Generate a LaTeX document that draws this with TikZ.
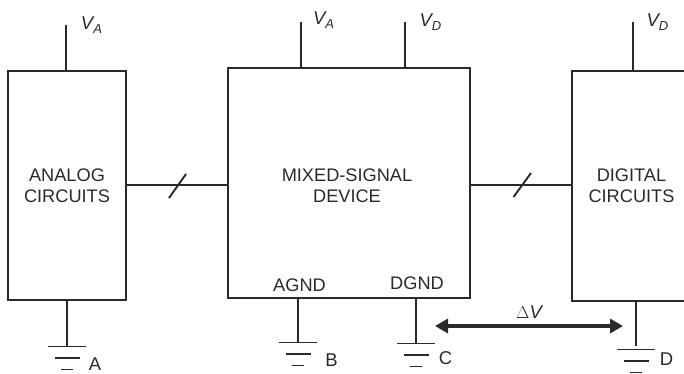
\documentclass[tikz,border=0pt]{standalone}
\usepackage{fontspec}
\setmainfont{Liberation Sans}
\usetikzlibrary{arrows.meta,calc}
\tikzset{
  block/.style={draw=ink,line width=2pt,minimum height=0pt,inner sep=0pt,rectangle,anchor=north west},
  wire/.style={draw=ink,line width=1.9pt},
  lab/.style={font=\fontsize{18.2}{20.5}\selectfont,text=ink,align=center,inner sep=0pt},
  rail/.style={font=\fontsize{18.5}{20}\selectfont\itshape,text=ink,inner sep=0pt},
  gndlab/.style={font=\fontsize{18.5}{20}\selectfont,text=ink,inner sep=0pt},
  gnd/.pic={
    \draw[wire] (-19,0) -- (19,0);
    \draw[wire] (-12.5,11.5) -- (12.5,11.5);
    \draw[wire] (-6,23) -- (6,23);
  }
}
\newcommand{\railsub}[1]{\raisebox{-0.4ex}{\fontsize{13}{14}\selectfont #1}}
\definecolor{ink}{HTML}{2B2A2B}
\begin{document}
\begin{tikzpicture}[x=1pt,y=-1pt]
\useasboundingbox (0,0) rectangle (684,373);
\clip (0,0) rectangle (684,373);
% blocks
\node[block,minimum width=118pt,minimum height=229pt] (an) at (7,70) {};
\node[block,minimum width=242pt,minimum height=230pt] (mx) at (227,67) {};
\node[block,minimum width=140pt,minimum height=230pt] (dg) at (571,70) {};
\node[lab] (anl) at (67,185.5) {ANALOG\\CIRCUITS};
\node[lab] (mxl) at (347,185.5) {MIXED-SIGNAL\\DEVICE};
\node[lab] (dgl) at (631.5,185.5) {DIGITAL\\CIRCUITS};
\node[lab] (agnd) at (299.5,285) {AGND};
\node[lab] (dgnd) at (417,283.5) {DGND};
% supply rails
\coordinate (va1) at (66,25);
\coordinate (va2) at (301,22);
\coordinate (vd2) at (405,22);
\coordinate (vd3) at (633,22);
\draw[wire] (va1) -- (va1 |- an.north);
\draw[wire] (va2) -- (va2 |- mx.north);
\draw[wire] (vd2) -- (vd2 |- mx.north);
\draw[wire] (vd3) -- (vd3 |- dg.north);
\node[rail] (tva1) at (91.5,25) {V\railsub{A}};
\node[rail] (tva2) at (323.5,20.5) {V\railsub{A}};
\node[rail] (tvd2) at (430.5,22.5) {V\railsub{D}};
\node[rail] (tvd3) at (657.5,22.5) {V\railsub{D}};
% signal buses
\coordinate (b1) at (126,185);
\coordinate (b2) at (470,185);
\draw[wire] (b1) -- (b1 -| mx.west);
\draw[wire] (b2) -- (b2 -| dg.west);
\coordinate (s1a) at (169,198);
\coordinate (s1b) at (186,174);
\coordinate (s2a) at (513.5,197);
\coordinate (s2b) at (531,173);
\draw[wire] (s1a) -- (s1b);
\draw[wire] (s2a) -- (s2b);
% grounds
\coordinate (ga) at (67,346.5);
\coordinate (gb) at (298,342.5);
\coordinate (gc) at (416,343.5);
\coordinate (gd) at (636,349.5);
\draw[wire] (ga |- an.south) -- (ga);
\draw[wire] (gb |- mx.south) -- (gb);
\draw[wire] (gc |- mx.south) -- (gc);
\draw[wire] (636,300) -- (636,346);
\pic at (ga) {gnd};
\pic at (gb) {gnd};
\pic at (gc) {gnd};
\pic at (gd) {gnd};
\node[gndlab] (la) at (95,364) {A};
\node[gndlab] (lb) at (331.5,360) {B};
\node[gndlab] (lc) at (445.5,358) {C};
\node[gndlab] (ld) at (666.5,359) {D};
% potential difference
\coordinate (dl) at (435,326);
\coordinate (dr) at (623,326);
\draw[draw=ink,line width=4.4pt,{Triangle[length=13pt,width=14pt]}-{Triangle[length=13pt,width=14pt]}] (dl) -- (dr);
\node[rail] (dv) at (529,312) {{\upshape$\Delta$}V};
\end{tikzpicture}
\end{document}
